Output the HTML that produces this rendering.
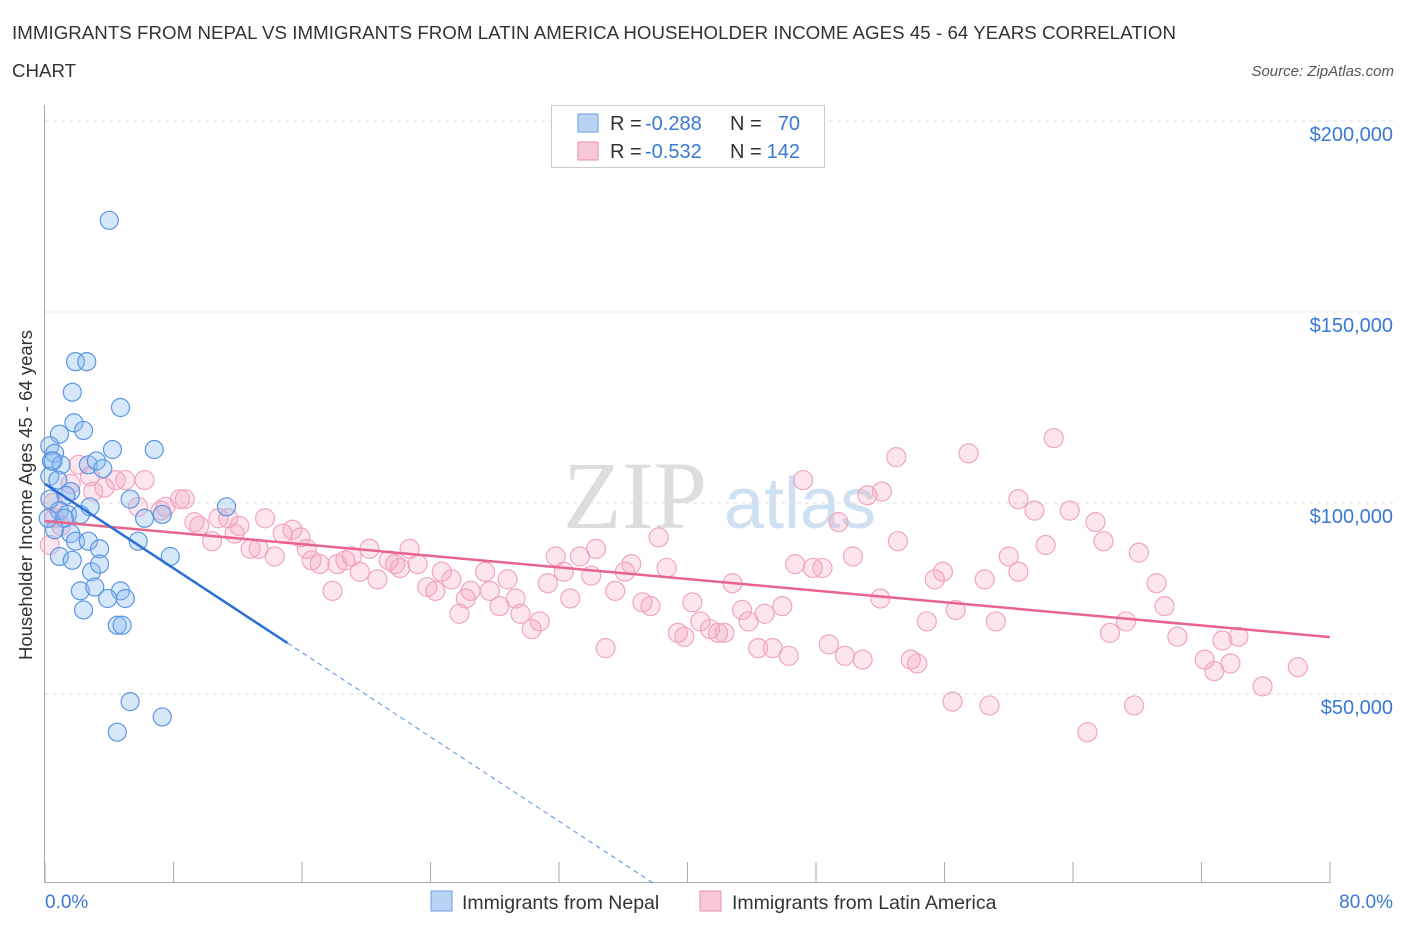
<!DOCTYPE html>
<html><head><meta charset="utf-8"><style>
body{margin:0;background:#fff;font-family:"Liberation Sans",sans-serif;}
svg{display:block}
</style></head><body>
<svg width="1406" height="930" id="chart">
<text x="12" y="39" font-size="18.7" fill="#333" textLength="1164">IMMIGRANTS FROM NEPAL VS IMMIGRANTS FROM LATIN AMERICA HOUSEHOLDER INCOME AGES 45 - 64 YEARS CORRELATION</text>
<text x="12" y="77" font-size="18.7" fill="#333">CHART</text>
<text x="1394" y="76" font-size="15" fill="#555" font-style="italic" text-anchor="end">Source: ZipAtlas.com</text>
<text x="635" y="528" font-size="96" fill="#ddd" font-family="Liberation Serif,serif" text-anchor="middle">ZIP</text>
<text x="800" y="528" font-size="72" fill="#cfe0f2" text-anchor="middle">atlas</text>
<g id="grid"></g>
<g id="axes"></g>
<g id="pink"></g>
<g id="blue"></g>
<g id="lines"></g>
<text x="32" y="495" font-size="18.5" fill="#333" text-anchor="middle" transform="rotate(-90 32 495)">Householder Income Ages 45 - 64 years</text>
<text x="45" y="908" font-size="19" fill="#3a78d6">0.0%</text>
<text x="1393" y="908" font-size="19" fill="#3a78d6" text-anchor="end">80.0%</text>
<g>
<rect x="551.5" y="105.5" width="273" height="62" fill="#fff" stroke="#ccc"/>
<rect x="578" y="114" width="20" height="18" fill="#b8d3f5" stroke="#6a9fe0"/>
<rect x="578" y="142" width="20" height="18" fill="#f8c8d6" stroke="#eb8fac"/>
<text x="610" y="130" font-size="20" fill="#333">R =</text>
<text x="645" y="130" font-size="20" fill="#3a78d6">-0.288</text>
<text x="730" y="130" font-size="20" fill="#333">N =</text>
<text x="800" y="130" font-size="20" fill="#3a78d6" text-anchor="end">70</text>
<text x="610" y="158" font-size="20" fill="#333">R =</text>
<text x="645" y="158" font-size="20" fill="#3a78d6">-0.532</text>
<text x="730" y="158" font-size="20" fill="#333">N =</text>
<text x="800" y="158" font-size="20" fill="#3a78d6" text-anchor="end">142</text>
</g>
<g>
<rect x="431" y="891" width="21" height="20" fill="#b8d3f5" stroke="#6a9fe0"/>
<text x="462" y="909" font-size="19.5" fill="#333">Immigrants from Nepal</text>
<rect x="700" y="891" width="21" height="20" fill="#f8c8d6" stroke="#eb8fac"/>
<text x="732" y="909" font-size="19.5" fill="#333">Immigrants from Latin America</text>
</g>
</svg>
<script>
const yTicks=[50000,100000,150000,200000];
const yTickLabels=["$50,000","$100,000","$150,000","$200,000"];
const blueX=[4.0,1.9,2.6,1.7,4.7,1.8,2.4,0.9,4.2,6.8,0.3,0.6,0.4,1.0,2.7,3.2,0.3,0.8,1.6,1.3,2.8,5.3,11.3,0.9,1.4,2.2,1.2,6.2,7.3,0.6,1.6,1.9,2.7,5.8,3.4,0.9,1.7,7.8,2.9,3.4,2.2,3.1,4.7,5.0,3.9,2.4,4.5,4.8,5.3,7.3,4.5,0.3,0.2,3.6,0.5];
const blueY=[174,137,137,129,125,121,119,118,114,114,115,113,111,110,110,111,107,106,103,102,99,101,99,98,97,97,96,96,97,93,92,90,90,90,88,86,85,86,82,84,77,78,77,75,75,72,68,68,48,44,40,101,96,109,111];
const pinkX=[0.3,0.6,1.6,2.1,2.8,3.7,4.4,5.0,6.2,5.8,7.2,7.5,8.4,8.7,9.3,9.6,10.4,10.8,11.4,11.8,12.1,12.8,13.3,13.7,14.3,14.8,15.4,15.9,16.3,16.6,17.1,17.9,18.2,18.7,19.1,19.6,20.2,20.7,21.4,21.8,22.1,22.7,23.2,23.8,24.3,24.7,25.3,25.8,26.2,26.5,27.4,27.7,28.3,28.8,29.3,29.6,30.3,30.8,31.3,31.8,32.3,32.7,33.3,34.0,34.3,34.9,35.5,36.1,36.5,37.2,37.7,38.2,38.7,39.4,39.8,40.3,40.8,41.4,41.9,42.3,42.8,43.4,43.8,44.4,44.8,45.3,45.9,46.3,46.7,47.2,47.8,48.4,48.8,49.4,49.8,50.3,50.9,51.2,52.0,52.1,53.0,53.1,53.9,54.3,54.9,55.4,55.9,56.5,56.7,57.5,58.5,58.8,59.2,60.0,60.6,60.6,61.6,62.3,62.8,63.8,64.9,65.4,65.9,66.3,67.3,67.8,68.1,69.2,69.7,70.5,72.2,72.8,73.3,73.8,74.3,75.8,78.0,0.5,1.0,3.0];
const pinkY=[89,96,105,110,107,104,106,106,106,99,98,99,101,101,95,94,90,96,96,92,94,88,88,96,86,92,93,91,88,85,84,77,84,85,86,82,88,80,85,84,83,88,84,78,77,82,80,71,75,77,82,77,73,80,75,71,67,69,79,86,82,75,86,81,88,62,77,82,84,74,73,91,83,66,65,74,69,67,66,66,79,72,69,62,71,62,73,60,84,106,83,83,63,95,60,86,59,102,75,103,112,90,59,58,69,80,82,48,72,113,80,47,69,86,82,101,98,89,117,98,40,95,90,66,69,47,87,79,73,65,59,56,64,58,65,52,57,100,94,103];
const blueFit=[105,-2.76], pinkFit=[95.3,-0.38];
const X0=45,X1=1330,Y0=885,PXK=191/50;
const sx=p=>X0+p*(X1-X0)/80, sy=k=>Y0-k*PXK;
const NS="http://www.w3.org/2000/svg";
function mk(t,a,par){const e=document.createElementNS(NS,t);for(const k in a)e.setAttribute(k,a[k]);document.getElementById(par).appendChild(e);return e;}
yTicks.forEach((v,i)=>{
 const g=mk('line',{x1:45,x2:1394,y1:sy(v/1000),y2:sy(v/1000),stroke:'#ddd','stroke-dasharray':'4,4'},'grid');
 
 
 const t=mk('text',{x:1393,y:sy(v/1000)+20,'font-size':20,fill:'#3a78d6','text-anchor':'end'},'grid');
 t.textContent=yTickLabels[i];
 
 
});
const ax=mk('line',{x1:44.5,x2:44.5,y1:105,y2:883,stroke:'#aaa'},'axes');


const xa=mk('line',{x1:44,x2:1331,y1:882.5,y2:882.5,stroke:'#aaa'},'axes');


for(let i=0;i<=10;i++){const x=X0+i*(X1-X0)/10;const t=mk('line',{x1:x,x2:x,y1:862,y2:883,stroke:'#aaa'},'axes');
 
 }
pinkX.forEach((x,i)=>{const c=mk('circle',{cx:sx(x),cy:sy(pinkY[i]),r:9.5,fill:'rgba(245,160,185,0.28)',stroke:'#f0a6be','stroke-width':1.2},'pink');
 
 });
blueX.forEach((x,i)=>{const c=mk('circle',{cx:sx(x),cy:sy(blueY[i]),r:9,fill:'rgba(140,185,240,0.35)',stroke:'#5b96e2','stroke-width':1.2},'blue');
 
 });
const f=(fit,p)=>fit[0]+fit[1]*p;
const pl=mk('line',{x1:sx(0),y1:sy(f(pinkFit,0)),x2:sx(80),y2:sy(f(pinkFit,80)),stroke:'#e8648f','stroke-width':2.5},'lines');


const bl=mk('line',{x1:sx(0),y1:sy(f(blueFit,0)),x2:sx(15.1),y2:sy(f(blueFit,15.1)),stroke:'#2a6fd6','stroke-width':2.5},'lines');


const z=-blueFit[0]/blueFit[1];
const bd=mk('line',{x1:sx(15.1),y1:sy(f(blueFit,15.1)),x2:sx(z),y2:sy(0),stroke:'#5a8fe0','stroke-width':1,'stroke-dasharray':'5,4'},'lines');


</script>
</body></html>
